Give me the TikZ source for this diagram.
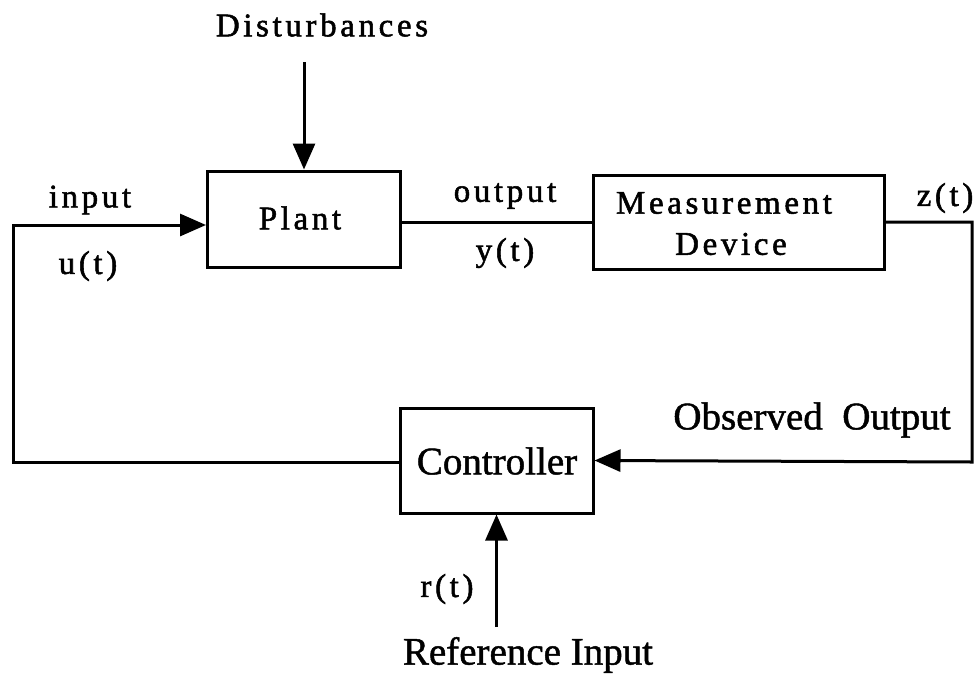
\documentclass[tikz,border=0pt]{standalone}
\usepackage{fontspec}
\setmainfont{Liberation Serif}[FakeBold=1.2]
\newfontfamily\spaced[LetterSpace=11,FakeBold=1.6]{Liberation Serif}
\usetikzlibrary{arrows.meta}
\tikzset{
  blk/.style={draw, line width=3pt, rectangle, inner sep=0pt},
  wire/.style={line width=3pt},
  arr/.style={line width=3pt, -{Triangle[length=26pt,width=22pt]}},
  sp/.style={font=\fontsize{33}{40}\selectfont\spaced, inner sep=0pt, align=center},
  pl/.style={font=\fontsize{39}{44}\selectfont, inner sep=0pt, align=center}
}
\begin{document}
\begin{tikzpicture}[x=1pt,y=-1pt]
\useasboundingbox (0,0) rectangle (974,675);
% blocks
\node[blk, minimum width=193pt, minimum height=96pt] (plant) at (304,219) {};
\node[blk, minimum width=291pt, minimum height=94pt] (meas) at (738.5,222) {};
\node[blk, minimum width=193pt, minimum height=105pt] (ctrl) at (496.5,460.5) {};
% texts
\node[sp] (tplant) at (300,218) {Plant};
\node[sp] (tmeas1) at (724,203) {Measurement};
\node[sp] (tmeas2) at (731,244) {Device};
\node[pl] (tctrl) at (497,461) {Controller};
\node[sp] (tdist) at (322,25) {Disturbances};
\node[sp] (tin) at (90,200) {input};
\node[sp] (tu) at (88,266) {u(t)};
\node[sp] (tout) at (505,196) {output};
\node[sp] (ty) at (505,253) {y(t)};
\node[sp] (tz) at (945,198) {z(t)};
\node[pl] (tobs) at (812,420) {Observed\ \ Output};
\node[sp] (tr) at (447,589) {r(t)};
\node[pl] (tref) at (528,655) {Reference Input};
% corner coordinates
\coordinate (lc) at (13,225);
\coordinate (rc) at (972,462);
\coordinate (dstart) at (304,62);
\coordinate (rstart) at (496.5,627);
% connectors
\draw[arr] (dstart) -- (plant.north);
\draw[wire] (plant.east |- meas.west) -- (meas.west);
\draw[arr] (meas.east) -| (rc) -- (ctrl.east);
\draw[arr] (ctrl.west |- rc) -| (lc) -- ([yshift=-6pt]plant.west);
\draw[arr] (rstart) -- (ctrl.south);
\end{tikzpicture}
\end{document}
